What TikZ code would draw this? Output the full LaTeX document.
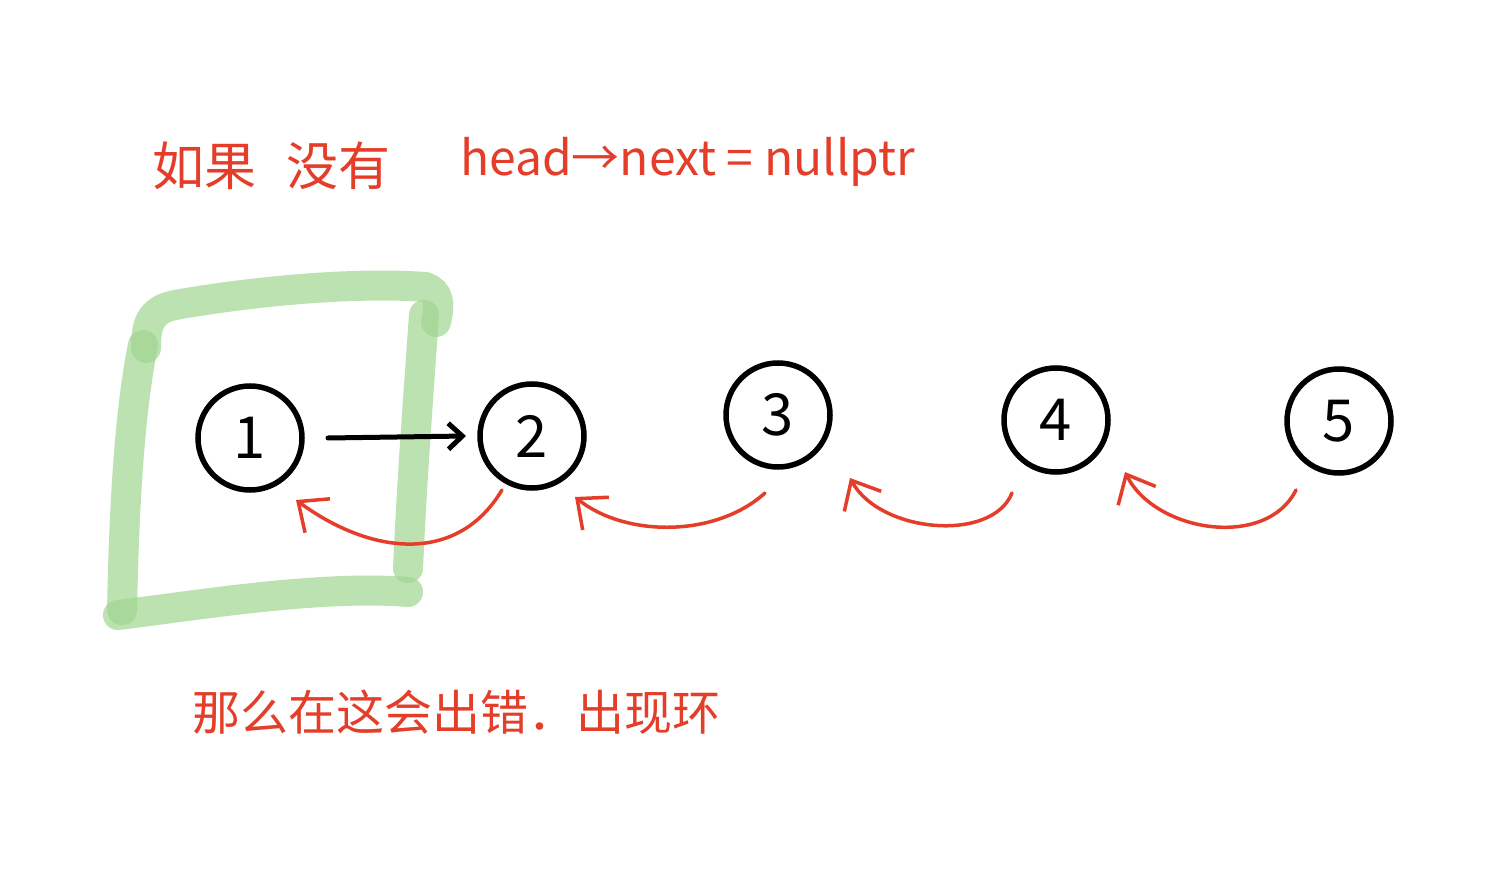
\documentclass[tikz,border=0pt]{standalone}
\usepackage{fontspec}
\setmainfont{Noto Sans CJK SC}
\usetikzlibrary{arrows.meta,calc}
\definecolor{hred}{RGB}{228,62,42}
\definecolor{hgreen}{RGB}{160,214,145}
\tikzset{
  listnode/.style={circle,draw=black,line width=5.5pt,minimum size=104pt,inner sep=0pt,font=\fontsize{58}{60}\selectfont},
  back/.style={draw=hred,line width=3.5pt,line cap=round,line join=round,-{Straight Barb[length=24pt,width=42pt,line width=3.5pt]}},
  fwd/.style={draw=black,line width=5pt,line cap=round,-{Straight Barb[length=14pt,width=26pt,line width=5pt]}},
  greenstroke/.style={draw=hgreen,line width=30pt,line cap=round,opacity=0.7},
  note/.style={text=hred,anchor=west,inner sep=0pt}
}
\begin{document}
\begin{tikzpicture}[x=1pt,y=-1pt]
\useasboundingbox (0,0) rectangle (1501,874);
\fill[white] (0,0) rectangle (1501,874);
% green marker box
\draw[greenstroke] (146,348) .. controls (146,325) and (150,310) .. (175,305) .. controls (260,290) and (360,282) .. (425,287) .. controls (440,292) and (440,305) .. (436,322);
\draw[greenstroke] (424,315) .. controls (418,400) and (412,480) .. (408,568);
\draw[greenstroke] (408,592) .. controls (320,585) and (200,605) .. (118,615);
\draw[greenstroke] (122,610) .. controls (124,520) and (128,420) .. (143,345);
% nodes
\node[listnode] (n1) at (250,438) {1};
\node[listnode] (n2) at (532,436) {2};
\node[listnode] (n3) at (778,415) {3};
\node[listnode] (n4) at (1056,420) {4};
\node[listnode] (n5) at (1339,421) {5};
% forward arrow
\draw[fwd] ($(n1.center)+(78,0)$) -- ($(n2.center)+(-66,0)$);
% back arrows
\draw[back] ($(n2.center)+(-30,54)$) .. controls +(-45,75) and +(75,55) .. ($(n1.center)+(46,62)$);
\draw[back] ($(n3.center)+(-13,78)$) .. controls +(-50,45) and +(50,40) .. ($(n2.center)+(43,61)$);
\draw[back] ($(n4.center)+(-44,73)$) .. controls +(-20,50) and +(30,55) .. ($(n3.center)+(72,63)$);
\draw[back] ($(n5.center)+(-43,69)$) .. controls +(-30,60) and +(30,60) .. ($(n4.center)+(69,52)$);
% texts
\node[note,font=\fontsize{52}{56}\selectfont] (t1) at (152,166) {如果\hspace{30pt}没有};
\node[note,font=\fontsize{48}{52}\selectfont] (t2) at (460,162) {head→next = nullptr};
\node[note,font=\fontsize{48}{52}\selectfont] (t3) at (192,712) {那么在这会出错．出现环};
\end{tikzpicture}
\end{document}
